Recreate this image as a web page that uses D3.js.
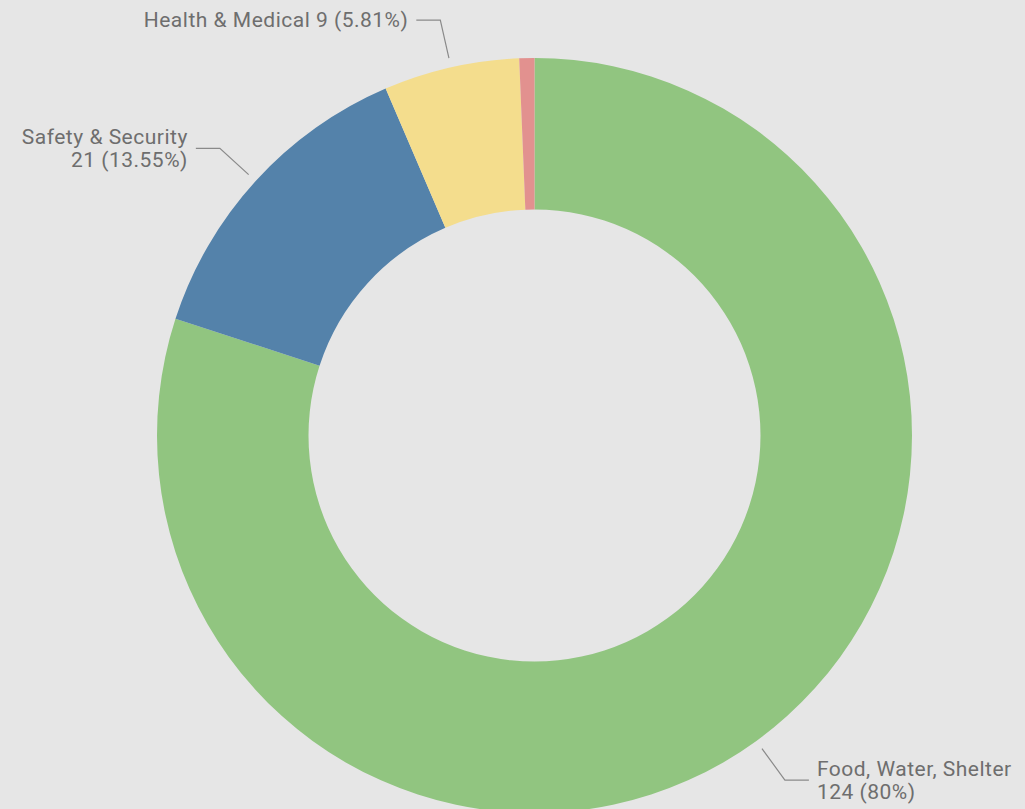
<!DOCTYPE html>
<html>
<head>
<meta charset="utf-8">
<script src="https://cdn.jsdelivr.net/npm/d3@7/dist/d3.min.js"></script>
<style>
  html, body { margin: 0; padding: 0; background: #e6e6e6; overflow: hidden; }
  svg { display: block; }
  .lbl { font-family: Roboto, "DejaVu Sans Condensed", sans-serif; font-size: 21px; letter-spacing: 0.5px; fill: #6e6e6e; }
</style>
</head>
<body>
<svg id="donut"></svg>
<script>
// ── data ──
const categories = ['Food, Water, Shelter', 'Safety & Security', 'Health & Medical', 'Other'];
const values = [124, 21, 9, 1];
const percentLabels = ['80%', '13.55%', '5.81%', '0.65%'];
const labelled = [true, true, true, false];
const oneLine = ['Health & Medical'];
const colors = ['#91c580', '#5482aa', '#f4dd8d', '#e2918f'];

function drawDonut() {
  const w = 1025, h = 809;
  const cx = 534.5, cy = 435.5;
  const R = 377.5, r0 = 226;

  const svg = d3.select('#donut').attr('width', w).attr('height', h);
  svg.selectAll('*').remove();
  const g = svg.append('g').attr('transform', `translate(${cx},${cy})`);

  const data = categories.map((c, i) => ({ name: c, value: values[i], pct: percentLabels[i], i }));
  const pie = d3.pie().value(d => d.value).sort(null);
  const arcs = pie(data);
  const arc = d3.arc().innerRadius(r0).outerRadius(R);

  g.selectAll('path.slice')
    .data(arcs).enter().append('path')
      .attr('class', 'slice')
      .attr('d', arc)
      .attr('fill', d => colors[d.data.i]);

  // leader lines + labels
  const startArc = d3.arc().innerRadius(387).outerRadius(387);
  const elbowArc = d3.arc().innerRadius(426).outerRadius(426);

  arcs.filter(d => labelled[d.data.i]).forEach(d => {
    const p0 = startArc.centroid(d);
    const p1 = elbowArc.centroid(d);
    const side = p1[0] < 0 ? -1 : 1;
    const p2 = [p1[0] + side * 24, p1[1]];
    g.append('polyline')
      .attr('points', [p0, p1, p2].map(p => p.join(',')).join(' '))
      .attr('fill', 'none')
      .attr('stroke', '#8a8a8a')
      .attr('stroke-width', 1.2);

    const lines = oneLine.includes(d.data.name)
      ? [`${d.data.name} ${d.data.value} (${d.data.pct})`]
      : [d.data.name, `${d.data.value} (${d.data.pct})`];
    const lh = 23;
    const t = g.append('text')
      .attr('class', 'lbl')
      .attr('text-anchor', side < 0 ? 'end' : 'start');
    lines.forEach((ln, k) => {
      t.append('tspan')
        .attr('x', p2[0] + side * 8)
        .attr('y', p2[1] + (k - (lines.length - 1) / 2) * lh)
        .attr('dy', '0.35em')
        .text(ln);
    });
  });
}

drawDonut();
</script>
</body>
</html>
